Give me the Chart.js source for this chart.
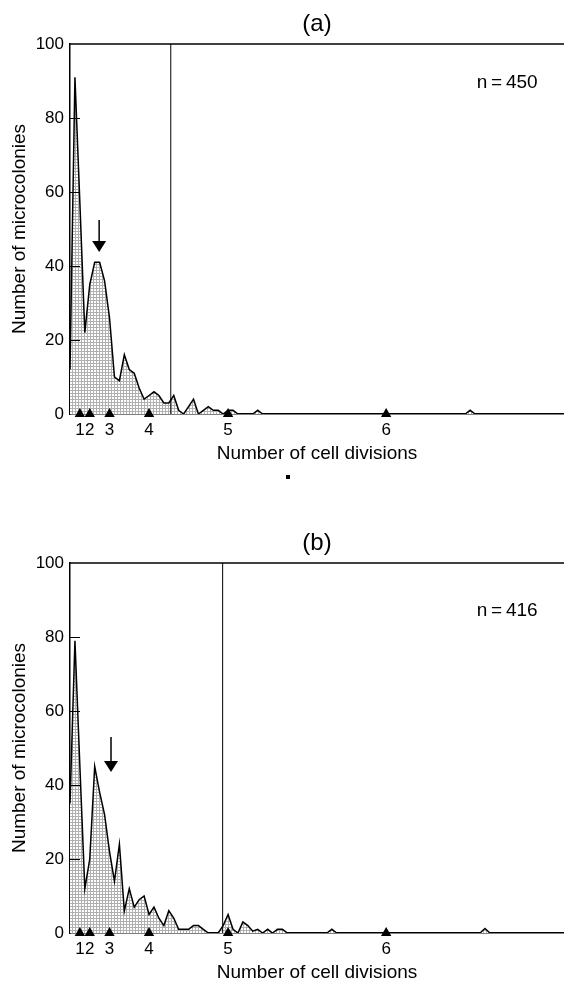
<!DOCTYPE html>
<html>
<head>
<meta charset="utf-8">
<script src="https://cdn.jsdelivr.net/npm/chart.js@4"></script>
<style>
  body { margin: 0; background: #fff; }
  #wrap { position: relative; width: 564px; height: 985px; }
  canvas { position: absolute; left: 0; }
  #chartA { top: 0; }
  #chartB { top: 519px; }
  #dot { position: absolute; left: 286px; top: 475px; width: 4px; height: 4px; background: #000; }
</style>
</head>
<body>
<div id="wrap">
  <canvas id="chartA" width="564" height="466"></canvas>
  <div id="dot"></div>
  <canvas id="chartB" width="564" height="466"></canvas>
</div>
<script>
// ---------- DATA ----------
// x = colony size in cells; ticks mark 2^n cells (n = number of divisions)
const cellsA  = [0, 1, 2, 3, 4, 5, 6, 7, 8, 9, 10, 11, 12, 13, 14, 15, 16, 17, 18, 19, 20,
                 21, 22, 23, 24, 25, 26, 27, 28, 29, 30, 31, 32, 33, 34, 37, 38, 39, 80, 81, 82, 100];
const countsA = [12, 91, 57, 22, 35, 41, 41, 36, 26, 10, 9, 16, 12, 11, 7, 4, 5, 6, 5, 3, 3,
                 5, 1, 0, 2, 4, 0, 1, 2, 1, 1, 0, 1, 1, 0, 0, 1, 0, 0, 1, 0, 0];

const cellsB  = [0, 1, 2, 3, 4, 5, 6, 7, 8, 9, 10, 11, 12, 13, 14, 15, 16, 17, 18, 19, 20,
                 21, 22, 23, 24, 25, 26, 27, 28, 29, 30, 31, 32, 33, 34, 35, 36, 37, 38, 39, 40,
                 41, 42, 43, 44, 52, 53, 54, 83, 84, 85, 100];
const countsB = [35, 79, 45, 12, 20, 45, 38, 32, 22, 14, 24, 6, 12, 7, 9, 10, 5, 7, 4, 2, 6,
                 4, 1, 1, 1, 2, 2, 1, 0, 0, 0, 2, 5, 1, 0, 3, 2, 0.5, 1, 0, 1,
                 0, 1, 1, 0, 0, 1, 0, 0, 1.2, 0, 0];

const tickCells  = [2, 4, 8, 16, 32, 64];
const tickLabels = ["1", "2", "3", "4", "5", "6"];
const yTicks     = [0, 20, 40, 60, 80, 100];

// cut-off lines and arrows (cells / counts)
const cutA = 20.4, cutB = 30.9;
const arrowA = { x: 5.9, top: 52.4, tip: 43.8 };
const arrowB = { x: 8.3, top: 53, tip: 43.5 };

const FONT = "'Liberation Sans', Arial, Helvetica, sans-serif";

// ---------- STIPPLE FILL ----------
function stipple() {
  const c = document.createElement("canvas");
  c.width = 3; c.height = 3;
  const g = c.getContext("2d");
  g.fillStyle = "#ffffff"; g.fillRect(0, 0, 3, 3);
  g.fillStyle = "#b0b0b0";
  g.fillRect(0, 0, 3, 1);
  g.fillRect(0, 0, 1, 3);
  return g.createPattern(c, "repeat");
}

// ---------- PANEL ----------
function makePanel(id, title, cells, counts, cut, arrow, nText, nPos) {
  const extras = {
    id: "extras_" + id,
    afterDatasetsDraw(chart) {
      const { ctx, chartArea: a, scales: { x, y } } = chart;
      ctx.save();
      ctx.strokeStyle = "#000";
      ctx.fillStyle = "#000";

      // top frame line
      ctx.lineWidth = 1.5;
      ctx.beginPath();
      ctx.moveTo(a.left, a.top);
      ctx.lineTo(a.right, a.top);
      ctx.stroke();

      // inward y ticks
      ctx.lineWidth = 1;
      yTicks.slice(1, -1).forEach(v => {
        const py = Math.round(y.getPixelForValue(v)) + 0.5;
        ctx.beginPath();
        ctx.moveTo(a.left, py);
        ctx.lineTo(a.left + 10, py);
        ctx.stroke();
      });

      // arrow
      const ax = x.getPixelForValue(arrow.x);
      const top = y.getPixelForValue(arrow.top);
      const tip = y.getPixelForValue(arrow.tip);
      ctx.lineWidth = 1.5;
      ctx.beginPath();
      ctx.moveTo(ax, top);
      ctx.lineTo(ax, tip - 10);
      ctx.stroke();
      ctx.beginPath();
      ctx.moveTo(ax - 7, tip - 11);
      ctx.lineTo(ax + 7, tip - 11);
      ctx.lineTo(ax, tip);
      ctx.closePath();
      ctx.fill();

      // n label
      ctx.font = "19px " + FONT;
      ctx.textAlign = "center";
      ctx.textBaseline = "middle";
      ctx.fillText(nText, x.getPixelForValue(nPos.x), y.getPixelForValue(nPos.y));
      ctx.restore();
    }
  };

  return new Chart(document.getElementById(id), {
    type: "line",
    data: {
      datasets: [
        {
          data: cells.map((c, i) => ({ x: c, y: counts[i] })),
          borderColor: "#000",
          borderWidth: 1.5,
          backgroundColor: stipple(),
          fill: "origin",
          pointRadius: 0,
          tension: 0,
          order: 2
        },
        {
          data: [{ x: cut, y: 0 }, { x: cut, y: 100 }],
          borderColor: "#000",
          borderWidth: 1,
          pointRadius: 0,
          fill: false,
          order: 1
        },
        {
          data: tickCells.map(c => ({ x: c, y: 0 })),
          showLine: false,
          pointStyle: "triangle",
          pointRadius: 6,
          pointBackgroundColor: "#000",
          pointBorderColor: "#000",
          pointBorderWidth: 0,
          clip: false,
          order: 0
        }
      ]
    },
    options: {
      responsive: false,
      animation: false,
      layout: { padding: 0, autoPadding: false },
      scales: {
        x: {
          type: "linear",
          min: 0,
          max: 100,
          grid: { display: false, drawTicks: false },
          border: { color: "#000", width: 1.5 },
          afterBuildTicks: s => { s.ticks = tickCells.map(v => ({ value: v })); },
          afterFit: s => { s.height = 52; s.paddingLeft = 0; s.paddingRight = 0; },
          ticks: {
            padding: 6,
            color: "#000",
            font: { family: FONT, size: 17 },
            maxRotation: 0,
            autoSkip: false,
            callback: v => tickLabels[tickCells.indexOf(v)]
          },
          title: {
            display: true,
            text: "Number of cell divisions",
            color: "#000",
            font: { family: FONT, size: 19, lineHeight: 1 },
            padding: { top: 0, bottom: 2.5 }
          }
        },
        y: {
          min: 0,
          max: 100,
          grid: { display: false, drawTicks: false },
          border: { color: "#000", width: 1.5 },
          afterBuildTicks: s => { s.ticks = yTicks.map(v => ({ value: v })); },
          afterFit: s => { s.width = 70; },
          ticks: {
            padding: 6,
            color: "#000",
            font: { family: FONT, size: 17 }
          },
          title: {
            display: true,
            text: "Number of microcolonies",
            color: "#000",
            font: { family: FONT, size: 19, lineHeight: 1 },
            padding: { top: 10, bottom: 0 }
          }
        }
      },
      plugins: {
        legend: { display: false },
        tooltip: { enabled: false },
        title: {
          display: true,
          text: title,
          fullSize: false,
          color: "#000",
          font: { family: FONT, size: 24, weight: "normal", lineHeight: 1 },
          padding: { top: 12, bottom: 8 }
        }
      }
    },
    plugins: [extras]
  });
}

makePanel("chartA", "(a)", cellsA, countsA, cutA, arrowA, "n\u2009=\u2009450", { x: 88.5, y: 89.6 });
makePanel("chartB", "(b)", cellsB, countsB, cutB, arrowB, "n\u2009=\u2009416", { x: 88.5, y: 87 });
</script>
</body>
</html>
